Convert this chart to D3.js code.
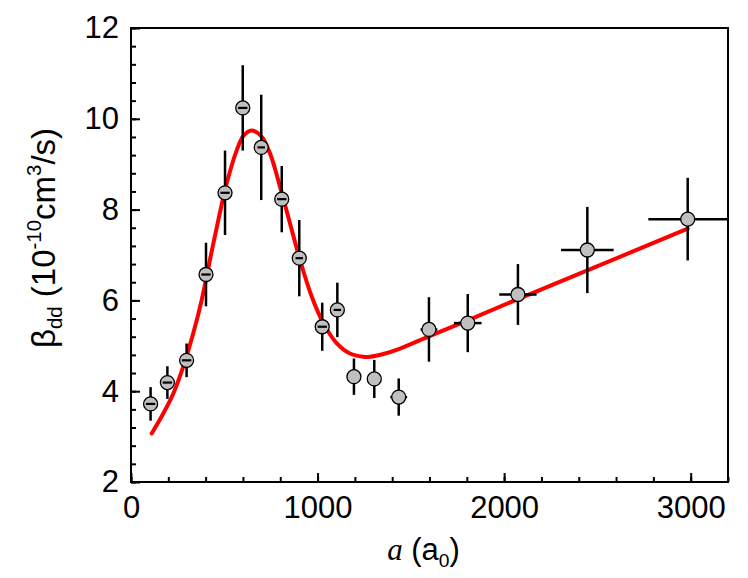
<!DOCTYPE html>
<html>
<head>
<meta charset="utf-8">
<script src="https://cdn.jsdelivr.net/npm/d3@7"></script>
<style>
  body { margin: 0; background: #fff; }
  svg { display: block; }
  text { font-family: "Liberation Sans", Arial, Helvetica, sans-serif; }
</style>
</head>
<body>
<svg id="chart" width="748" height="578"></svg>
<script>
// ---- data ----
const xVals = [105, 195, 298, 402, 504, 599, 698, 808, 902, 1025, 1106, 1195, 1304, 1435, 1597, 1805, 2074, 2446, 2984];
const yVals = [3.72, 4.19, 4.68, 6.57, 8.37, 10.24, 9.37, 8.23, 6.93, 5.42, 5.79, 4.32, 4.27, 3.87, 5.36, 5.50, 6.13, 7.11, 7.79];
const yErr  = [0.37, 0.36, 0.37, 0.70, 0.93, 0.94, 1.16, 0.73, 0.84, 0.53, 0.60, 0.40, 0.42, 0.41, 0.71, 0.64, 0.67, 0.95, 0.91];
const xErr  = [25, 25, 25, 25, 25, 25, 20, 25, 20, 25, 20, 0, 0, 45, 45, 74, 100, 141, 211];

const fitX = [111, 173, 227, 280, 334, 379, 423, 468, 513, 567, 602, 647, 700, 745, 799, 852, 906, 969, 1031, 1102, 1174, 1245, 1281, 1353, 1442, 1603, 1805, 2074, 2446, 2984];
const fitY = [3.07, 3.51, 3.95, 4.54, 5.28, 6.01, 6.89, 7.77, 8.58, 9.31, 9.62, 9.74, 9.61, 9.24, 8.50, 7.70, 6.89, 6.08, 5.50, 5.06, 4.83, 4.76, 4.76, 4.82, 4.94, 5.22, 5.56, 6.03, 6.66, 7.58];

const xTicks = [0, 1000, 2000, 3000];
const yTicks = [2, 4, 6, 8, 10, 12];
const xMinor = d3.range(0, 3201, 200);
const yMinor = d3.range(2, 12.001, 0.4).map(v => +v.toFixed(1));

// ---- layout ----
const L = 131, R = 728, T = 28, B = 482;
const svg = d3.select("#chart");
const x = d3.scaleLinear().domain([0, 3200]).range([L, R]);
const y = d3.scaleLinear().domain([2, 12]).range([B, T]);

const FS = 31;

// minor ticks
svg.append("g").attr("transform", `translate(0,${B})`)
  .call(d3.axisBottom(x).tickValues(xMinor).tickSize(-5).tickFormat(""))
  .call(g => g.select(".domain").remove())
  .call(g => g.selectAll("line").attr("stroke-width", 2));
svg.append("g").attr("transform", `translate(${L},0)`)
  .call(d3.axisLeft(y).tickValues(yMinor).tickSize(-5).tickFormat(""))
  .call(g => g.select(".domain").remove())
  .call(g => g.selectAll("line").attr("stroke-width", 2));

// major ticks + labels
svg.append("g").attr("transform", `translate(0,${B})`)
  .call(d3.axisBottom(x).tickValues(xTicks).tickSize(-9).tickPadding(14).tickFormat(d3.format("d")))
  .call(g => g.select(".domain").remove())
  .call(g => g.selectAll("line").attr("stroke-width", 2))
  .call(g => g.selectAll("text").attr("font-size", FS).attr("fill", "#000")
        .attr("font-family", "'Liberation Sans', Arial, sans-serif"));
svg.append("g").attr("transform", `translate(${L},0)`)
  .call(d3.axisLeft(y).tickValues(yTicks).tickSize(-9).tickPadding(12).tickFormat(d3.format("d")))
  .call(g => g.select(".domain").remove())
  .call(g => g.selectAll("line").attr("stroke-width", 2))
  .call(g => g.selectAll("text").attr("font-size", FS).attr("fill", "#000")
        .attr("font-family", "'Liberation Sans', Arial, sans-serif"));

// frame
svg.append("rect")
  .attr("x", L).attr("y", T).attr("width", R - L).attr("height", B - T)
  .attr("fill", "none").attr("stroke", "#000").attr("stroke-width", 2);

// fit curve
const pts = fitX.map((d, i) => [d, fitY[i]]);
svg.append("path")
  .datum(pts)
  .attr("fill", "none")
  .attr("stroke", "#ff0000")
  .attr("stroke-width", 4)
  .attr("stroke-linecap", "round")
  .attr("d", d3.line().x(d => x(d[0])).y(d => y(d[1])).curve(d3.curveCatmullRom.alpha(0.5)));

// data points
const data = xVals.map((d, i) => ({ x: d, y: yVals[i], ey: yErr[i], ex: xErr[i] }));
const r = 7;
const gp = svg.append("g");
// vertical error bars
gp.selectAll(".ey").data(data).join("line")
  .attr("x1", d => x(d.x)).attr("x2", d => x(d.x))
  .attr("y1", d => y(d.y - d.ey)).attr("y2", d => y(d.y + d.ey))
  .attr("stroke", "#000").attr("stroke-width", 2.5);
// horizontal error bars (behind the markers when larger than marker)
gp.selectAll(".exb").data(data.filter(d => d.ex > 0 && (x(d.x + d.ex) - x(d.x)) > r)).join("line")
  .attr("x1", d => x(d.x - d.ex)).attr("x2", d => x(d.x + d.ex))
  .attr("y1", d => y(d.y)).attr("y2", d => y(d.y))
  .attr("stroke", "#000").attr("stroke-width", 2.5);
// markers
gp.selectAll("circle").data(data).join("circle")
  .attr("cx", d => x(d.x)).attr("cy", d => y(d.y)).attr("r", r)
  .attr("fill", "#c0c0c0").attr("stroke", "#000").attr("stroke-width", 1.3);
// small horizontal error bars shown over the markers
gp.selectAll(".exs").data(data.filter(d => d.ex > 0 && (x(d.x + d.ex) - x(d.x)) <= r)).join("line")
  .attr("x1", d => x(d.x - d.ex)).attr("x2", d => x(d.x + d.ex))
  .attr("y1", d => y(d.y)).attr("y2", d => y(d.y))
  .attr("stroke", "#000").attr("stroke-width", 2.2);

// x-axis title
const xt = svg.append("text")
  .attr("x", (L + R) / 2 - 6).attr("y", 560)
  .attr("text-anchor", "middle")
  .attr("font-size", FS).attr("fill", "#000");
xt.append("tspan").attr("font-family", "'Liberation Serif', 'Times New Roman', serif")
  .attr("font-style", "italic").text("a");
xt.append("tspan").text(" (a");
xt.append("tspan").attr("font-size", FS * 0.62).attr("dy", 7).text("0");
xt.append("tspan").attr("dy", -7).text(")");

// y-axis title
const YF = 33;
const yt = svg.append("text")
  .attr("transform", `translate(55,238) rotate(-90)`)
  .attr("text-anchor", "middle")
  .attr("font-size", YF).attr("fill", "#000");
yt.append("tspan").text("β");
yt.append("tspan").attr("font-size", YF * 0.62).attr("dy", 7).text("dd");
yt.append("tspan").attr("dy", -7).text(" (10");
yt.append("tspan").attr("font-size", YF * 0.62).attr("dy", -14).text("-10");
yt.append("tspan").attr("dy", 14).text("cm");
yt.append("tspan").attr("font-size", YF * 0.62).attr("dy", -14).text("3");
yt.append("tspan").attr("dy", 14).text("/s)");
</script>
</body>
</html>
